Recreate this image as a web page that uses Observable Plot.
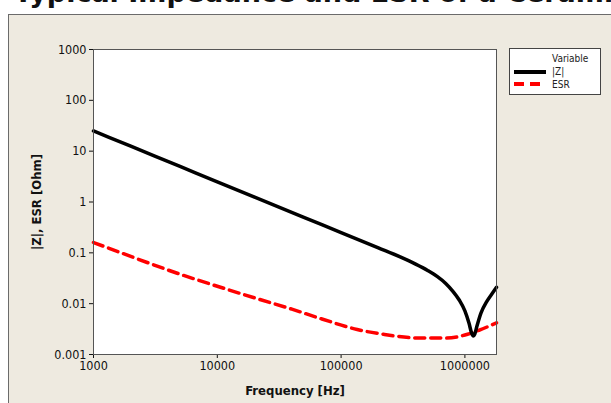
<!DOCTYPE html>
<html>
<head>
<meta charset="utf-8">
<script src="https://cdn.jsdelivr.net/npm/d3@7"></script>
<script src="https://cdn.jsdelivr.net/npm/@observablehq/plot@0.6"></script>
<style>
  html, body { margin: 0; padding: 0; background: #ffffff; width: 611px; height: 403px; overflow: hidden; position: relative; }
  #title { position: absolute; left: 0; top: 0; }
  #panel { position: absolute; left: 8px; top: 14px; width: 603px; height: 389px; background: #EEEAE0; border-left: 1px solid #6b6b6b; border-top: 1px solid #6b6b6b; box-sizing: border-box; }
  #chart { position: absolute; left: 0; top: 0; }
  #chart svg { overflow: visible; }
  g[aria-label="x-axis label"] text, g[aria-label="y-axis label"] text { font-weight: bold; font-size: 13px; }
  #legend { position: absolute; left: 509px; top: 48px; width: 92px; height: 47px; background: #fff; border: 1px solid #444; box-sizing: border-box; font-family: "DejaVu Sans Condensed", "DejaVu Sans", sans-serif; font-size: 10px; color: #222; }
  #legend .t { position: absolute; white-space: nowrap; }
</style>
</head>
<body>
<svg id="title" width="611" height="14"><text x="14" y="1.5" font-family="'DejaVu Sans', sans-serif" font-weight="bold" font-size="27" fill="#111">Typical Impedance and ESR of a Ceramic Capacitor</text></svg>
<div id="panel"></div>
<div id="chart"></div>
<div id="legend">
  <div class="t" style="left:42px; top:4px;">Variable</div>
  <svg style="position:absolute; left:4px; top:17px;" width="34" height="26">
    <line x1="0" y1="6" x2="32" y2="6" stroke="#000" stroke-width="4"></line>
    <line x1="0" y1="18" x2="32" y2="18" stroke="#ff0000" stroke-width="4" stroke-dasharray="10,6"></line>
  </svg>
  <div class="t" style="left:42px; top:17px;">|Z|</div>
  <div class="t" style="left:42px; top:30px;">ESR</div>
</div>
<script>
const freqZ = [1000, 2000, 5000, 10000, 20000, 50000, 100000, 200000, 300000, 400000, 500000, 600000, 700000, 800000, 900000, 1000000, 1080000, 1130000, 1170000, 1200000, 1250000, 1350000, 1500000, 1650000, 1800000];
const zValues = [25, 12.5, 5.0, 2.5, 1.25, 0.5, 0.25, 0.125, 0.083, 0.060, 0.045, 0.034, 0.025, 0.0175, 0.0118, 0.0072, 0.0041, 0.0027, 0.0023, 0.0025, 0.0036, 0.0066, 0.011, 0.0155, 0.021];
const freqESR = [1000, 2000, 5000, 10000, 20000, 40000, 70000, 135000, 220000, 450000, 700000, 1050000, 1300000, 1800000];
const esrValues = [0.16, 0.085, 0.038, 0.022, 0.013, 0.0078, 0.005, 0.0031, 0.0025, 0.0021, 0.0021, 0.0025, 0.003, 0.0042];
const xTicks = [1000, 10000, 100000, 1000000];
const xTickLabels = ["1000", "10000", "100000", "1000000"];
const yTicks = [0.001, 0.01, 0.1, 1, 10, 100, 1000];
const yTickLabels = ["0.001", "0.01", "0.1", "1", "10", "100", "1000"];

const zData = freqZ.map((f, i) => ({f, v: zValues[i]}));
const esrData = freqESR.map((f, i) => ({f, v: esrValues[i]}));

const chart = Plot.plot({
  width: 611,
  height: 403,
  marginLeft: 93,
  marginRight: 115,
  marginTop: 49,
  marginBottom: 49,
  style: {background: "transparent", fontFamily: "'DejaVu Sans Condensed', 'DejaVu Sans', sans-serif", fontSize: "12.5px", color: "#111"},
  x: {type: "log", domain: [1000, 1800000], ticks: xTicks, tickFormat: d => xTickLabels[xTicks.indexOf(d)], tickSize: 4, tickPadding: 3, label: "Frequency [Hz]", labelAnchor: "center", labelArrow: "none", labelOffset: 40},
  y: {type: "log", domain: [0.001, 1000], ticks: yTicks, tickFormat: d => yTickLabels[yTicks.indexOf(d)], tickSize: 4, tickPadding: 3, label: "|Z|, ESR [Ohm]", labelAnchor: "center", labelArrow: "none", labelOffset: 62},
  marks: [
    Plot.frame({fill: "#ffffff", stroke: null}),
    Plot.line(esrData, {x: "f", y: "v", stroke: "#ff0000", strokeWidth: 3.5, strokeDasharray: "10,6", curve: "monotone-x"}),
    Plot.line(zData, {x: "f", y: "v", stroke: "#000000", strokeWidth: 3.5, curve: "monotone-x"}),
    Plot.frame({stroke: "#555555", strokeWidth: 1})
  ]
});
document.getElementById("chart").appendChild(chart);
</script>
</body>
</html>
